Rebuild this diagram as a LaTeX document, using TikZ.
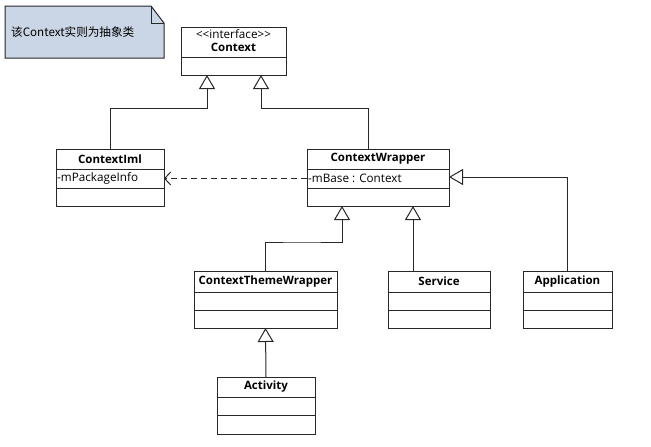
\documentclass[tikz,border=0pt]{standalone}
\usepackage{fontspec}
\setmainfont{Open Sans}
\newfontfamily\cjk{Noto Sans CJK SC}
\usetikzlibrary{arrows.meta,calc}
\definecolor{notefill}{RGB}{202,214,230}
\definecolor{lc}{RGB}{40,40,40}
\newcommand\umlclass[8]{%
  \node[clsbox, minimum width={(#4-#2)*1pt}, minimum height={(#5-#3)*1pt}] (#1) at (#2,#3) {};
  \draw[line] (#2,#6) -- (#4,#6);
  \draw[line] (#2,#7) -- (#4,#7);
  \node[title] (#1-t) at ({(#2+#4)/2},{(#3+#6)/2}) {#8};
}
\begin{document}
\begin{tikzpicture}[x=1pt,y=-1pt,
  line/.style={draw=lc, line width=1pt},
  clsbox/.style={line, fill=white, inner sep=0pt, outer sep=0pt, anchor=north west},
  title/.style={font=\fontsize{11.5}{13}\selectfont\bfseries, inner sep=0pt, align=center},
  attr/.style={font=\fontsize{11.7}{13}\selectfont, inner sep=0pt, anchor=west},
  gen/.style={line, -{Triangle[open, length=14pt, width=16pt, line width=1pt]}},
  dep/.style={line, dash pattern=on 6pt off 4pt, -{Straight Barb[length=6pt, width=13pt, line width=1pt]}},
]
\useasboundingbox (0,0) rectangle (651,447);
\fill[white] (0,0) rectangle (651,447);

% note
\filldraw[fill=notefill, draw=lc, line width=1pt]
  (5,6) -- (151,6) -- (164,23) -- (164,58) -- (5,58) -- cycle;
\draw[draw=lc, line width=1pt] (151,6) -- (151,23) -- (164,23);
\node[font=\fontsize{11.6}{13}\selectfont, anchor=west, inner sep=0pt] (note) at (11,32) {\cjk 该Context实则为抽象类};

% classes
\umlclass{context}{181}{27}{286}{75}{57}{57}{}
\node[font=\fontsize{11.7}{13}\selectfont, inner sep=0pt] (ctx-st) at (233.5,34) {{<}{<}interface{>}{>}};
\node[title] (ctx-name) at (233.5,47) {Context};

\umlclass{ctximl}{56}{149}{164}{206}{169}{188}{ContextIml}
\node[attr] (ctximl-a) at (57,178.5) {-mPackageInfo};

\umlclass{ctxwrap}{307}{149}{449}{206}{169}{188}{ContextWrapper}
\node[attr] (ctxwrap-a) at (308,178.5) {-mBase : Context};

\umlclass{ctw}{194}{271}{337}{328}{292}{310}{ContextThemeWrapper}
\umlclass{service}{388}{271}{490}{328}{292}{310}{Service}
\umlclass{app}{523}{271}{612}{328}{292}{310}{Application}
\umlclass{activity}{217}{377}{315}{434}{397}{415}{Activity}

% anchor points
\coordinate (ctxA) at (207,75);
\coordinate (ctxB) at (261,75);
\coordinate (cwTop) at (368,149);
\coordinate (cwA) at (342,206);
\coordinate (cwB) at (413,206);
\coordinate (svTop) at (413,271);
\coordinate (dashR) at (307,178.5);
\coordinate (dashL) at (164,178.5);
\coordinate (cwR) at (449,177);

% connectors
\draw[gen] (ctximl.north) |- (159,108.5) -| (ctxA);
\draw[gen] (cwTop) |- (300,108.5) -| (ctxB);
\draw[gen] (ctw.north) |- (300,242) -| (cwA);
\draw[gen] (svTop) -- (cwB);
\draw[gen] (app.north) |- (cwR);
\draw[gen] (activity.north) -- (ctw.south);
\draw[dep] (dashR) -- (dashL);
\end{tikzpicture}
\end{document}
